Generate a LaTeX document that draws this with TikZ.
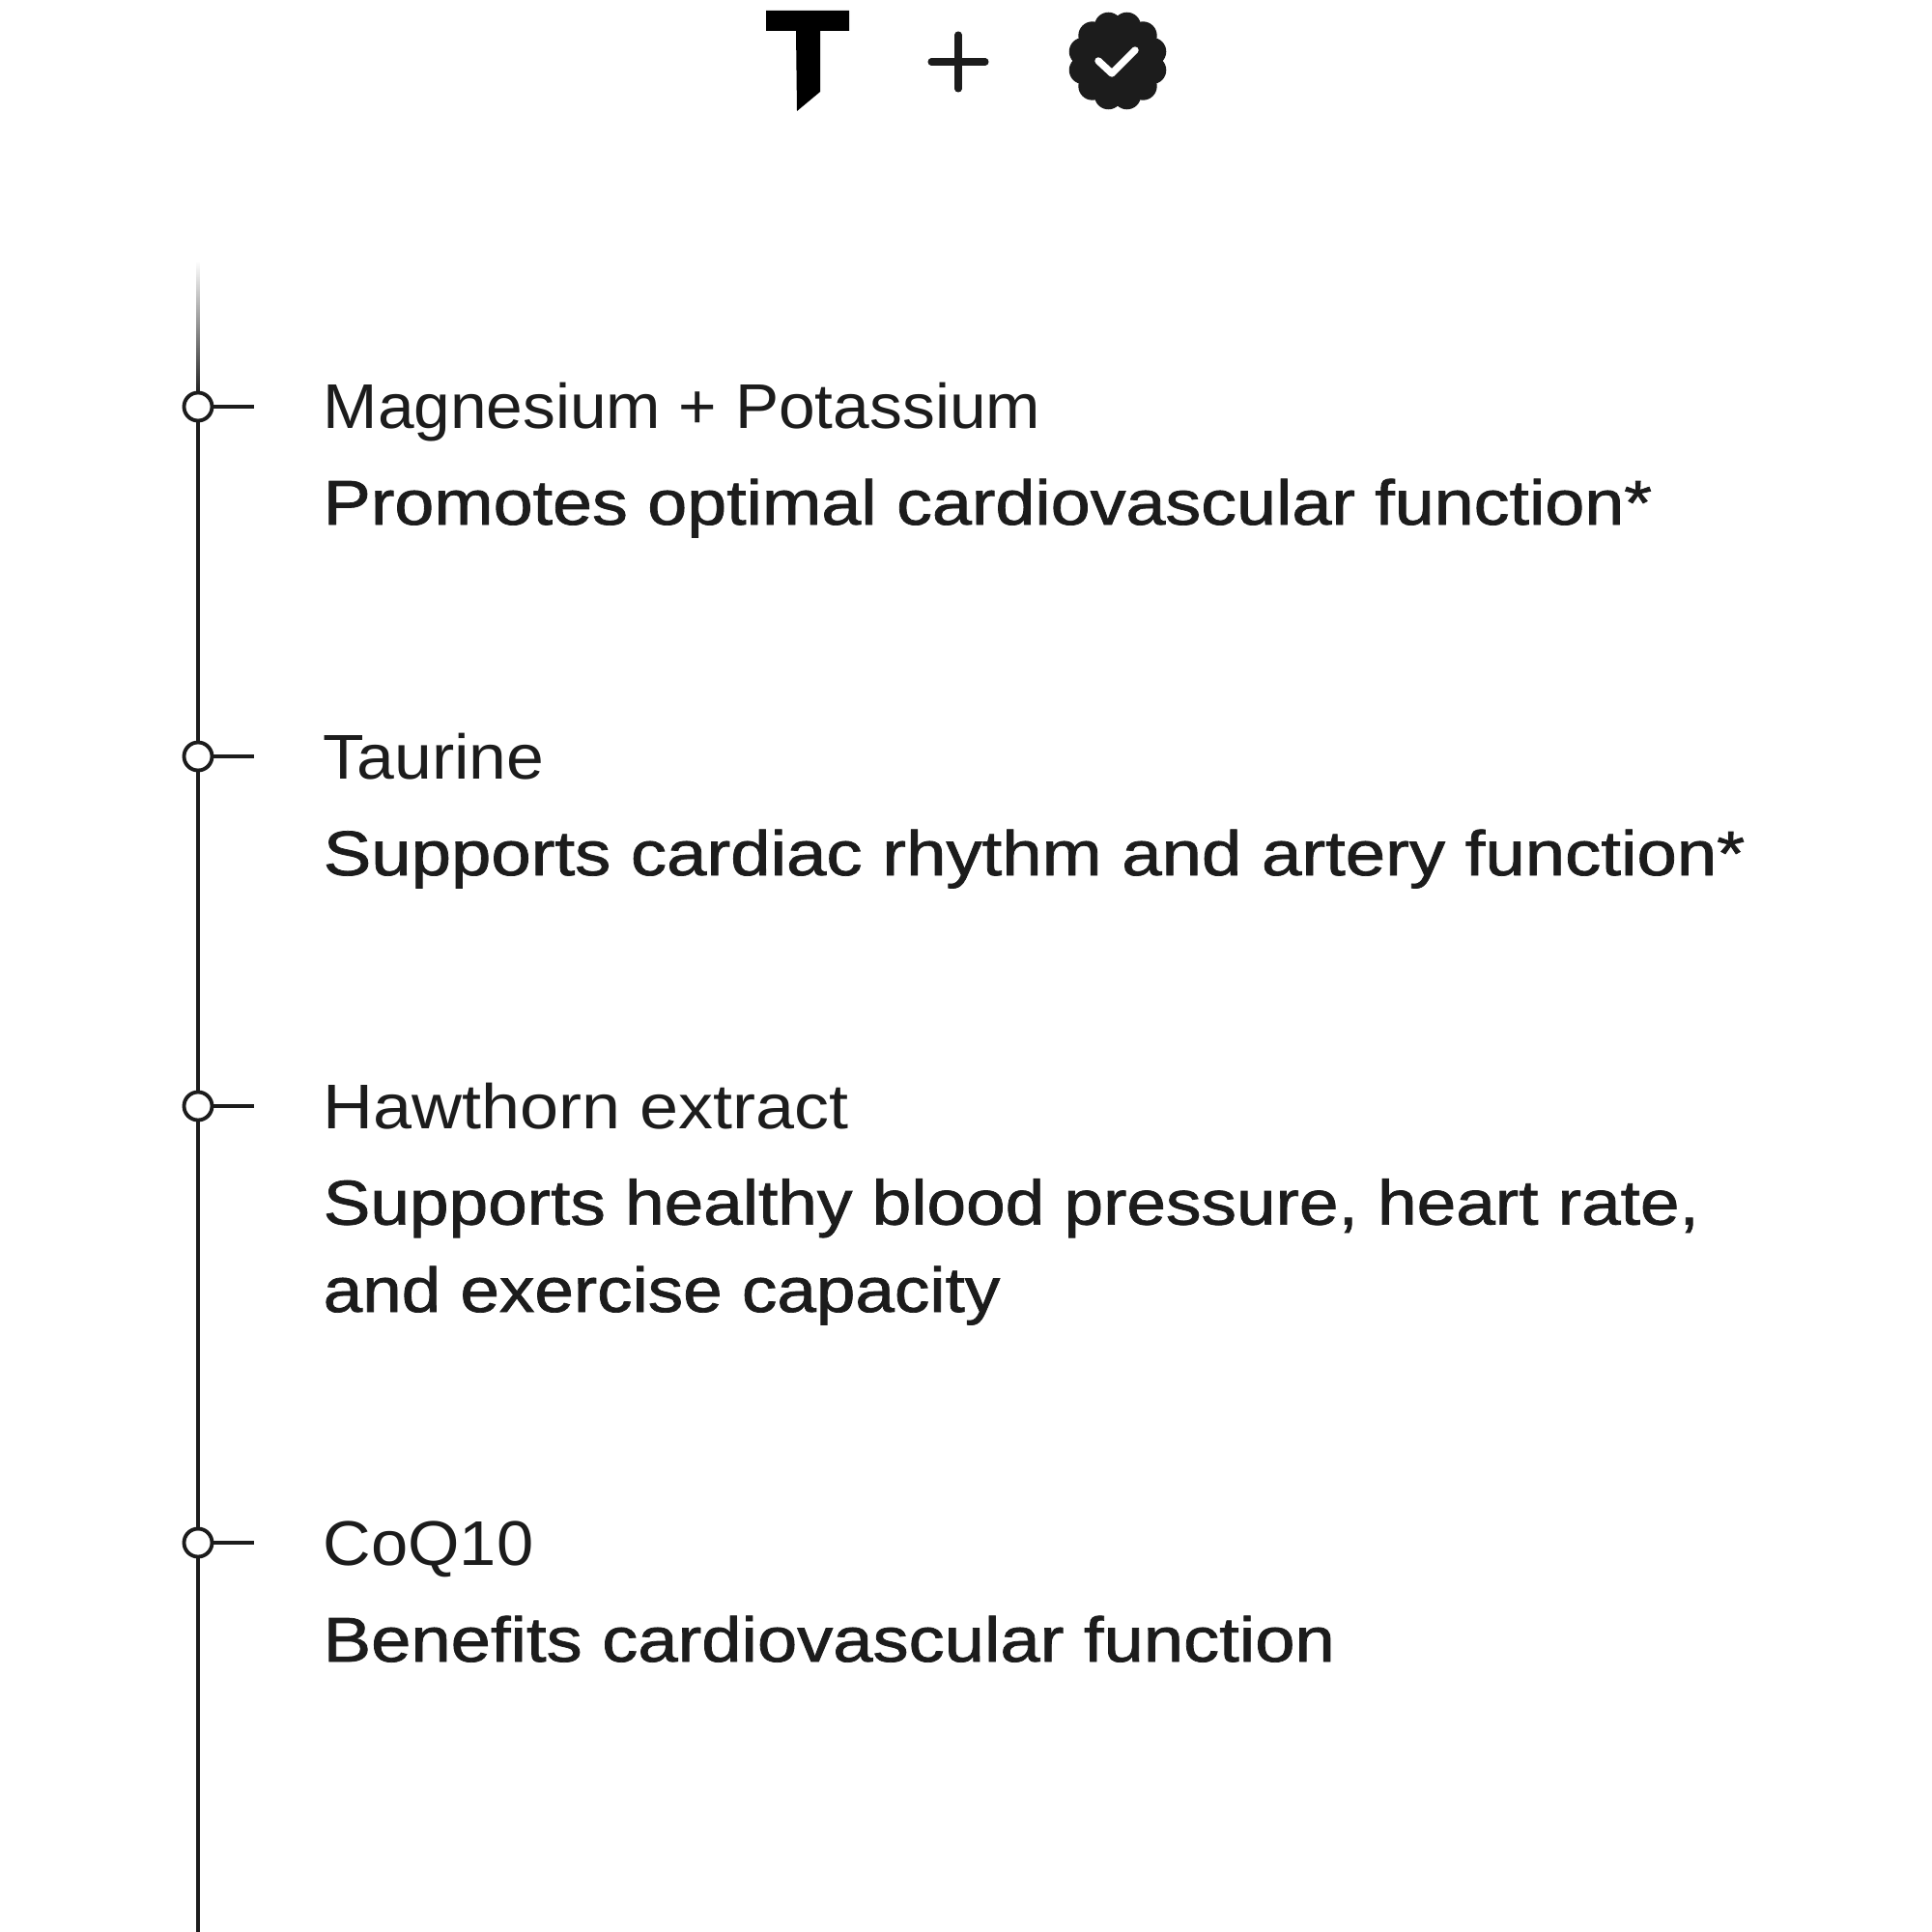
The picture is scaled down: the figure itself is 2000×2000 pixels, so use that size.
\documentclass[tikz,border=0pt]{standalone}
\usepackage{graphicx}
\usepackage{fontspec}
\setmainfont{Liberation Sans}
\newfontfamily\medfont[FakeBold=1.1]{Liberation Sans}
\definecolor{ink}{HTML}{1C1C1C}
\newcommand{\widen}[2]{\scalebox{#1}[1]{#2}}
\tikzset{
  px/.style={x=0.01cm,y=-0.01cm},
  dotnode/.style={circle,draw=ink,fill=white,line width=1.1pt,minimum size=0.29cm,inner sep=0pt},
  conn/.style={draw=ink,line width=0.95pt},
  plusmark/.style={draw=ink,line width=2pt,line cap=round},
  ingr/.style={anchor=base west,inner sep=0pt,text=ink,font=\fontsize{18.6}{22}\selectfont},
  benefit/.style={anchor=base west,inner sep=0pt,text=ink,font=\medfont\fontsize{18.6}{25.7}\selectfont,align=left},
}
\begin{document}
\begin{tikzpicture}[px]
\useasboundingbox (0,0) rectangle (2000,2000);
\fill[white] (0,0) rectangle (2000,2000);
% logo
\fill[black] (793,11) -- (879,11) -- (879,32) -- (849,32) -- (849,95) -- (825,115) -- (824,32) -- (793,32) -- cycle;
\draw[plusmark] (992,36) -- (992,92) (964,64) -- (1020,64);
\fill[ink] (1157,63) circle (0.38cm);
\foreach \a in {0,30,...,330} \fill[ink] (1157,63) ++(\a+15:0.37cm) circle (0.145cm);
\draw[white,line width=2.1pt,line cap=round,line join=round] (1137,63) -- (1151,76) -- (1175,52);
% spine
\shade[top color=white,bottom color=ink] (203.6,270) rectangle (206.4,410);
\node[dotnode] (d1) at (205,421) {};
\node[dotnode] (d2) at (205,783) {};
\node[dotnode] (d3) at (205,1145) {};
\node[dotnode] (d4) at (205,1597) {};
\coordinate (e) at (205,2000);
\foreach \i/\y in {1/421,2/783,3/1145,4/1597} \coordinate (t\i) at (263,\y);
\draw[conn] (d1) -- (d2); \draw[conn] (d2) -- (d3); \draw[conn] (d3) -- (d4); \draw[conn] (d4) -- (e);
\foreach \i in {1,2,3,4} \draw[conn] (d\i) -- (t\i);
% text
\node[ingr] (n1) at (334,443) {\widen{1.034}{Magnesium + Potassium}};
\node[benefit]  (b1) at (334,543) {\widen{1.126}{Promotes optimal cardiovascular function*}};
\node[ingr] (n2) at (334,806) {\widen{1.066}{Taurine}};
\node[benefit]  (b2) at (334,906) {\widen{1.137}{Supports cardiac rhythm and artery function*}};
\node[ingr] (n3) at (334,1168) {\widen{1.10}{Hawthorn extract}};
\node[benefit]  (b3) at (334,1358) {\widen{1.116}{Supports healthy blood pressure, heart rate,}\\\widen{1.114}{and exercise capacity}};
\node[ingr] (n4) at (334,1620) {\widen{1.05}{CoQ10}};
\node[benefit]  (b4) at (334,1720) {\widen{1.134}{Benefits cardiovascular function}};
\end{tikzpicture}
\end{document}
